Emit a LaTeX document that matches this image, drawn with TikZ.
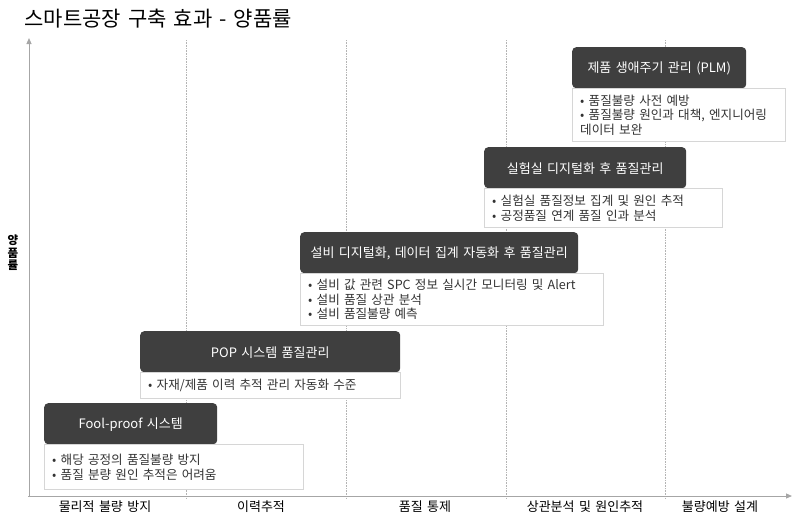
\documentclass[tikz,border=0pt]{standalone}
\usepackage{fontspec}
\setmainfont{Noto Sans CJK KR}[WordSpace=1.5]
\usepackage{tikz}
\usetikzlibrary{arrows.meta,positioning}
\definecolor{hdrgray}{HTML}{3F3F3F}
\definecolor{axisgray}{HTML}{A6A6A6}
\definecolor{linegray}{HTML}{B4B4B4}
\definecolor{boxline}{HTML}{D6D6D6}
\definecolor{txtgray}{HTML}{333333}

\begin{document}
\begin{tikzpicture}[x=1pt,y=-1pt,
                    head/.style={fill=hdrgray, text=white, rounded corners=4pt, inner sep=0pt,
                                 anchor=north west},
                    htext/.style={text=white, font=\fontsize{13}{15}\selectfont},
                    body/.style={draw=boxline, fill=white, text=txtgray, inner xsep=8pt, inner ysep=0pt,
                                 align=left, anchor=north west, font=\fontsize{12.6}{14.5}\selectfont},
                    grid/.style={linegray, densely dotted, line width=0.6pt},
                    axis/.style={axisgray, line width=1pt, -{Triangle[length=6pt,width=5pt]}},
                    xlab/.style={font=\fontsize{13}{15}\selectfont}]

  \useasboundingbox (0,0) rectangle (800,525);

  \node[anchor=west, font=\fontsize{21}{24}\selectfont] (title) at (21,19) {스마트공장 구축 효과 - 양품률};

  % axes and column lines
  \coordinate (O)  at (29,496);
  \coordinate (YT) at (29,38);
  \coordinate (XT) at (792,496);
  \foreach \gx in {186,346,506,665}
    \draw[grid] (\gx,40) -- (\gx,498);
  \draw[axis] ([yshift=-1pt]O) -- (YT);
  \draw[axis] ([xshift=-1pt]O) -- (XT);

  \node[font=\bfseries\fontsize{11.5}{12.5}\selectfont, align=center] (ylab) at (13,253) {양\\품\\률};

  \node[xlab] (X1) at (105,507) {물리적 불량 방지};
  \node[xlab] (X2) at (261,507) {이력추적};
  \node[xlab] (X3) at (425,507) {품질 통제};
  \node[xlab] (X4) at (585,507) {상관분석 및 원인추적};
  \node[xlab] (X5) at (720,507) {불량예방 설계};

  % stages
  \node[head, minimum width=173pt, minimum height=41pt] (H1) at (44,403) {};
  \node[body, text width=243pt, minimum height=45pt] (B1) at (H1.south west)
       {• 해당 공정의 품질불량 방지\\• 품질 분량 원인 추적은 어려움};
  \node[htext] (T1) at ([yshift=-1pt]H1.center) {Fool-proof 시스템};

  \node[head, minimum width=260pt, minimum height=41pt] (H2) at (140,331) {};
  \node[body, text width=244pt, minimum height=26pt] (B2) at (H2.south west)
       {• 자재/제품 이력 추적 관리 자동화 수준};
  \node[htext] (T2) at ([yshift=-1pt]H2.center) {POP 시스템 품질관리};

  \node[head, minimum width=278pt, minimum height=41pt] (H3) at (300,232) {};
  \node[body, text width=287pt, minimum height=52pt] (B3) at (H3.south west)
       {• 설비 값 관련 SPC 정보 실시간 모니터링 및 Alert\\• 설비 품질 상관 분석\\• 설비 품질불량 예측};
  \node[htext] (T3) at ([yshift=-1pt]H3.center) {설비 디지털화, 데이터 집계 자동화 후 품질관리};

  \node[head, minimum width=202pt, minimum height=41pt] (H4) at (484,147) {};
  \node[body, text width=222pt, minimum height=39pt] (B4) at (H4.south west)
       {• 실험실 품질정보 집계 및 원인 추적\\• 공정품질 연계 품질 인과 분석};
  \node[htext] (T4) at ([yshift=-1pt]H4.center) {실험실 디지털화 후 품질관리};

  \node[head, minimum width=174pt, minimum height=41pt] (H5) at (572,47) {};
  \node[body, text width=197pt, minimum height=53pt] (B5) at (H5.south west)
       {• 품질불량 사전 예방\\• 품질불량 원인과 대책, 엔지니어링\\데이터 보완};
  \node[htext] (T5) at ([yshift=-1pt]H5.center) {제품 생애주기 관리 (PLM)};

\end{tikzpicture}
\end{document}
